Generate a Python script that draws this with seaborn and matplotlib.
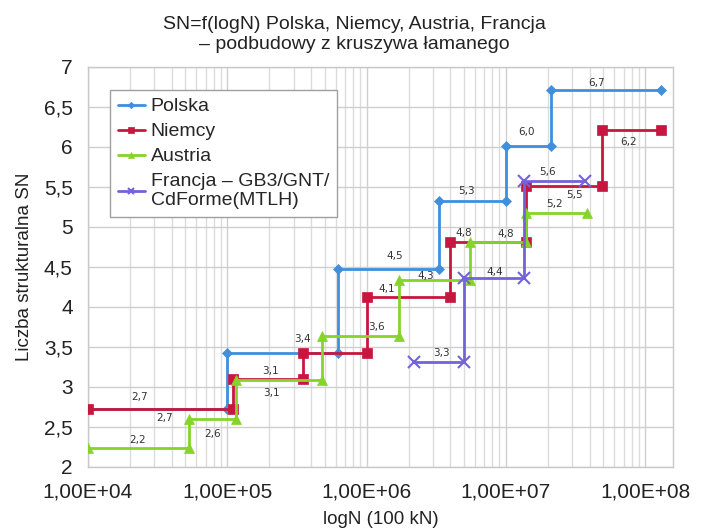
import numpy as np
import pandas as pd
import matplotlib
matplotlib.use("Agg")
import matplotlib.pyplot as plt
import seaborn as sns
from matplotlib.ticker import FixedLocator, FuncFormatter, LogLocator, NullFormatter

# ---------------- data ----------------
series_names = ["Polska", "Niemcy", "Austria", "Francja – GB3/GNT/\nCdForme(MTLH)"]

polska_start = [1e4, 1e5, 6.2e5, 3.3e6, 1.0e7, 2.1e7]
polska_end = [1e5, 6.2e5, 3.3e6, 1.0e7, 2.1e7, 1.3e8]
polska_sn = [2.73, 3.42, 4.47, 5.32, 6.01, 6.71]

niemcy_start = [1e4, 1.1e5, 3.5e5, 1.0e6, 4.0e6, 1.4e7, 4.9e7]
niemcy_end = [1.1e5, 3.5e5, 1.0e6, 4.0e6, 1.4e7, 4.9e7, 1.3e8]
niemcy_sn = [2.73, 3.10, 3.42, 4.12, 4.81, 5.51, 6.21]

austria_start = [1e4, 5.3e4, 1.15e5, 4.8e5, 1.7e6, 5.5e6, 1.4e7]
austria_end = [5.3e4, 1.15e5, 4.8e5, 1.7e6, 5.5e6, 1.4e7, 3.8e7]
austria_sn = [2.24, 2.60, 3.09, 3.64, 4.34, 4.81, 5.18]

francja_start = [2.2e6, 5.0e6, 1.35e7]
francja_end = [5.0e6, 1.35e7, 3.7e7]
francja_sn = [3.31, 4.36, 5.58]

x_ticks = [1e4, 1e5, 1e6, 1e7, 1e8]
y_ticks = [2, 2.5, 3, 3.5, 4, 4.5, 5, 5.5, 6, 6.5, 7]

# label offsets (pixels) relative to each segment midpoint; None = no label
polska_lab = [(-18, 12), (20, 14), (7, 13), (-6, 10), (-2, 14), (-9, 7)]
niemcy_lab = [(4, -9), (3, -14), None, (-22, 8), (-25, 9), (10, -9), (-3, -12)]
austria_lab = [(-1, 8), (0, -15), (-8, 9), (16, 9), (-8, 4), (8, 8), (-2, 9)]
francja_lab = [(2, 9), (1, 6), (-7, 9)]

# ---------------- styles ----------------
colors = ["#3f8fdc", "#c8173f", "#86d42a", "#7262dc"]
markers = ["D", "s", "^", "x"]
msizes = [5.5, 7.5, 7.5, 8]

def step_points(starts, ends, vals):
    xs, ys = [], []
    for s, e, v in zip(starts, ends, vals):
        xs += [s, e]
        ys += [v, v]
    return xs, ys

all_series = [
    (polska_start, polska_end, polska_sn, polska_lab),
    (niemcy_start, niemcy_end, niemcy_sn, niemcy_lab),
    (austria_start, austria_end, austria_sn, austria_lab),
    (francja_start, francja_end, francja_sn, francja_lab),
]

sns.set_theme(style="white")
plt.rcParams["font.family"] = ["Liberation Sans", "DejaVu Sans"]

fig = plt.figure(figsize=(7.09, 5.29), dpi=100)
ax = fig.add_axes([88 / 709, (529 - 467) / 529, (673 - 88) / 709, 400 / 529])

for i, (st, en, vals, labs) in enumerate(all_series):
    xs, ys = step_points(st, en, vals)
    df = pd.DataFrame({"N": xs, "SN": ys})
    sns.lineplot(data=df, x="N", y="SN", sort=False, estimator=None, ax=ax,
                 color=colors[i], marker=markers[i], markersize=msizes[i],
                 markeredgecolor=colors[i], markeredgewidth=1.5 if markers[i] == "x" else 0.5,
                 linewidth=2.0, label=series_names[i], zorder=3 + i)
    for s, e, v, off in zip(st, en, vals, labs):
        if off is None:
            continue
        xm = np.sqrt(s * e)
        ax.annotate(f"{v:.1f}".replace(".", ","), xy=(xm, v), xytext=off,
                    textcoords="offset pixels", ha="center", va="center",
                    fontsize=7.5, color="#333333", family="DejaVu Sans", zorder=10)

ax.set_xscale("log")
ax.set_xlim(1e4, 10 ** 8.2)
ax.set_ylim(2, 7)
ax.xaxis.set_major_locator(FixedLocator(x_ticks))
ax.xaxis.set_major_formatter(FuncFormatter(lambda v, p: f"{v:.2E}".replace(".", ",")))
ax.xaxis.set_minor_locator(LogLocator(base=10, subs=np.arange(2, 10)))
ax.xaxis.set_minor_formatter(NullFormatter())
ax.yaxis.set_major_locator(FixedLocator(y_ticks))
ax.yaxis.set_major_formatter(FuncFormatter(lambda v, p: (f"{v:g}").replace(".", ",")))

ax.grid(True, which="major", axis="both", color="#cfcfcf", linewidth=1.0, zorder=0)
ax.grid(True, which="minor", axis="x", color="#dcdcdc", linewidth=1.0, zorder=0)
ax.set_axisbelow(True)
for sp in ax.spines.values():
    sp.set_color("#c8c8c8")
    sp.set_linewidth(1.0)
ax.tick_params(axis="both", which="both", length=0, labelsize=15, colors="#222222", pad=11)

ax.set_xlabel("logN (100 kN)", fontsize=13.5, color="#222222", labelpad=7)
ax.set_ylabel("Liczba strukturalna SN", fontsize=13.5, color="#222222", labelpad=8)

fig.text(0.5, 1 - 16 / 529, "SN=f(logN) Polska, Niemcy, Austria, Francja\n– podbudowy z kruszywa łamanego",
         ha="center", va="top", fontsize=14, color="#222222", linespacing=1.25)

leg = ax.legend(loc="upper left", bbox_to_anchor=((110 - 88) / 585, (467 - 90) / 400),
                fontsize=14, frameon=True, fancybox=False, framealpha=1,
                edgecolor="#a0a0a0", handlelength=1.4, handletextpad=0.3,
                labelspacing=0.38, borderpad=0.4, markerscale=0.6, borderaxespad=0)
leg.get_frame().set_linewidth(1.0)

fig.savefig("out.png", dpi=100, facecolor="white")
